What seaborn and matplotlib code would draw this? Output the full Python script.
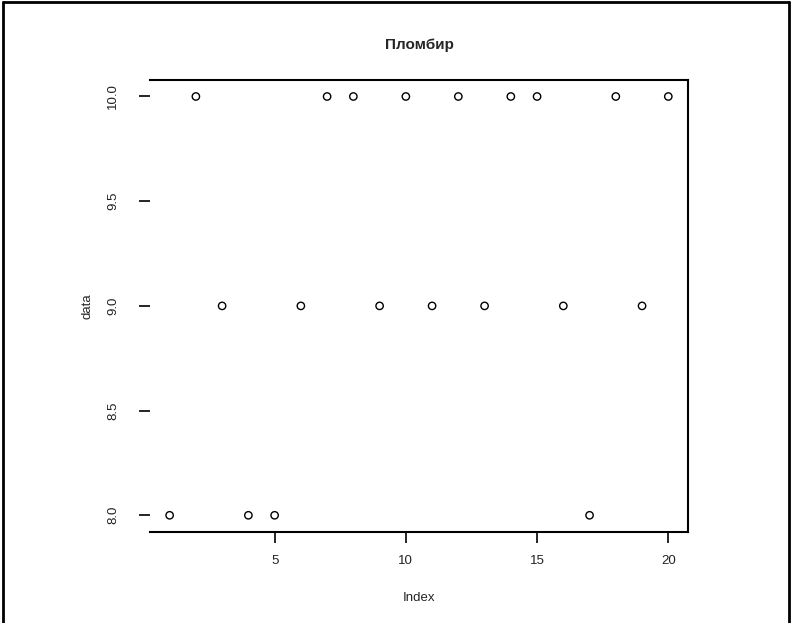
import matplotlib
matplotlib.use("Agg")
import matplotlib.pyplot as plt
import seaborn as sns
import pandas as pd
from matplotlib.lines import Line2D

index = list(range(1, 21))
values = [8, 10, 9, 8, 8, 9, 10, 10, 9, 10, 9, 10, 9, 10, 10, 9, 8, 10, 9, 10]
x_ticks = [5, 10, 15, 20]
y_ticks = [8.0, 8.5, 9.0, 9.5, 10.0]
y_tick_labels = ["8.0", "8.5", "9.0", "9.5", "10.0"]
title = "Пломбир"
x_label = "Index"
y_label = "data"

df = pd.DataFrame({"Index": index, "data": values})

sns.set_theme(style="white")
plt.rcParams['font.family'] = ['Liberation Sans', 'DejaVu Sans']

fig = plt.figure(figsize=(7.92, 6.23), dpi=100)
ax = fig.add_axes([0.189, 0.146, 0.68, 0.726])

sns.scatterplot(data=df, x="Index", y="data", ax=ax, marker="o", s=28,
                facecolors="none", edgecolor="black", linewidth=1.0)

ax.set_xlim(0.24, 20.76)
ax.set_ylim(7.92, 10.08)
ax.set_xticks(x_ticks)
ax.set_xticklabels([str(t) for t in x_ticks], fontsize=9.5, color="#222222")
ax.set_yticks(y_ticks)
ax.set_yticklabels(y_tick_labels, fontsize=9.5, rotation=90, va="center", color="#222222")
ax.tick_params(axis="both", direction="out", length=8, width=1.2, color="black",
               bottom=True, left=True)
ax.tick_params(axis="x", pad=8.5)
ax.tick_params(axis="y", pad=14)

for side in ["top", "right", "bottom"]:
    ax.spines[side].set_visible(True)
    ax.spines[side].set_color("black")
    ax.spines[side].set_linewidth(1.5)
ax.spines["left"].set_visible(False)

ax.set_title(title, fontsize=11, fontweight="bold", pad=22)
ax.set_xlabel(x_label, fontsize=9.5, labelpad=18)
ax.set_ylabel(y_label, fontsize=9.5, labelpad=10)

# outer frame (left, top, right)
fig.add_artist(Line2D([0.004, 0.004], [0, 0.997], transform=fig.transFigure, color="black", lw=2))
fig.add_artist(Line2D([0.004, 0.996], [0.997, 0.997], transform=fig.transFigure, color="black", lw=2))
fig.add_artist(Line2D([0.996, 0.996], [0, 0.997], transform=fig.transFigure, color="black", lw=2))

fig.savefig("out.png", dpi=100)
